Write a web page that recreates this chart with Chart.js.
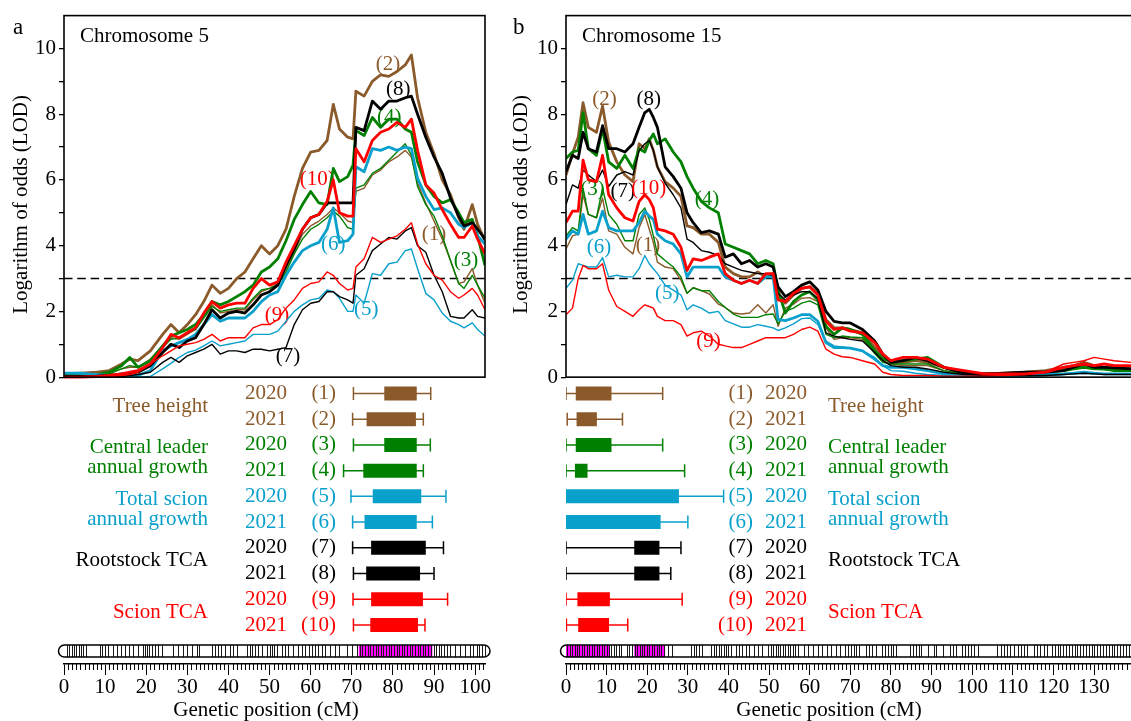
<!DOCTYPE html>
<html><head><meta charset="utf-8">
<script src="https://cdn.jsdelivr.net/npm/chart.js@4.4.1/dist/chart.umd.min.js"></script>
<style>
html,body{margin:0;padding:0;background:#fff;overflow:hidden;width:1131px;height:721px;position:relative;}
canvas{position:absolute;top:0;}
#ca{left:0;} #cb{left:500px;}
</style></head><body>
<canvas id="ca" width="500" height="721"></canvas>
<canvas id="cb" width="700" height="721"></canvas>
<script>
// ---------------- DATA ----------------
const TRAIT_NAMES = [['Tree height'], ['Central leader', 'annual growth'], ['Total scion', 'annual growth'], ['Rootstock TCA'], ['Scion TCA']];
const YEARS = ['2020', '2021'];
const QTL_IDS = ['(1)', '(2)', '(3)', '(4)', '(5)', '(6)', '(7)', '(8)', '(9)', '(10)'];
const CHROM_TITLES = ['Chromosome 5', 'Chromosome 15'];
const Y_TITLE = 'Logarithm of odds (LOD)';
const X_TITLE = 'Genetic position (cM)';
const LOD_THRESHOLD = 3;
const Y_TICKS = [0, 1, 2, 3, 4, 5, 6, 7, 8, 9, 10];
const X_TICKS_A = [0, 10, 20, 30, 40, 50, 60, 70, 80, 90, 100];
const X_TICKS_B = [0, 10, 20, 30, 40, 50, 60, 70, 80, 90, 100, 110, 120, 130];

// Chromosome 5 positions (cM) and LOD profiles (1)..(10)
const POS_A = [0,4,8,11,14, 16,18,21,24,26, 28,30,32,34,36, 38,40,42,44,46, 48,50,52,54,56, 58,60,62,64,65.5, 67,69,70.3,71,73, 75,77,79,81,83, 84.5,86,88,90,92, 94,96,97.3,99.3,100.6, 102.4];
const LOD_A1 = [0.1,0.12,0.1,0.12,0.25, 0.3,0.3,0.55,0.95,1.2, 1.15,1.3,1.45,1.85,2.2, 1.95,2.0,2.05,2.05,2.35, 2.6,2.7,2.85,3.3,3.8, 4.35,4.6,4.75,4.95,5.15, 5.0,4.75,4.7,5.65,5.75, 6.15,6.3,6.55,6.7,6.9, 6.7,5.9,5.3,4.75,4.2, 3.55,2.85,2.9,3.3,2.8, 2.25];
const LOD_A2 = [0.1,0.12,0.15,0.2,0.4, 0.55,0.5,0.8,1.3,1.6, 1.35,1.6,1.9,2.3,2.8, 2.55,2.7,3.0,3.2,3.6, 4.0,3.75,4.0,4.5,5.5, 6.35,6.85,6.9,7.2,8.3, 7.55,7.3,7.25,8.7,8.55, 9.0,9.2,9.15,9.3,9.5, 9.8,8.5,7.45,6.8,6.0, 5.55,4.85,4.5,5.25,4.65, 4.15];
const LOD_A3 = [0.05,0.05,0.06,0.1,0.25, 0.35,0.3,0.5,0.9,1.15, 1.2,1.35,1.45,1.8,2.15, 2.0,2.05,2.1,2.1,2.4, 2.65,2.7,2.8,3.2,3.75, 4.2,4.5,4.65,4.85,5.05, 4.9,4.55,4.5,5.75,5.85, 6.2,6.35,6.6,6.85,7.1, 6.75,5.8,5.25,4.9,4.3, 3.55,2.85,2.7,3.1,2.8, 2.4];
const LOD_A4 = [0.05,0.05,0.08,0.15,0.35, 0.6,0.3,0.5,0.95,1.25, 1.35,1.45,1.6,1.9,2.3, 2.2,2.3,2.45,2.6,2.8, 3.2,3.35,3.6,4.15,4.8, 5.25,5.65,5.3,5.25,6.35, 5.95,6.1,6.45,7.5,7.35, 7.9,7.6,7.85,7.85,7.55, 7.45,6.55,5.85,5.5,5.3, 5.4,5.0,4.7,4.8,4.3, 3.4];
const LOD_A5 = [0.12,0.1,0.05,0.02,0.0, 0.0,0.0,0.02,0.25,0.42, 0.6,0.75,0.82,0.95,1.1, 0.95,1.0,1.05,1.1,1.3, 1.3,1.3,1.4,1.7,2.0, 2.2,2.35,2.4,2.65,2.6, 2.4,2.0,2.0,2.5,2.25, 3.15,3.1,3.45,3.5,3.85, 3.9,3.3,2.55,2.35,1.95, 1.7,1.6,1.5,1.65,1.45, 1.25];
const LOD_A6 = [0.12,0.12,0.08,0.05,0.02, 0.02,0.05,0.2,0.8,0.95, 1.05,1.15,1.3,1.6,1.9, 1.7,1.8,1.8,1.8,2.0, 2.3,2.5,2.6,3.1,3.5, 3.85,4.0,4.1,4.5,5.15, 4.1,4.15,4.35,6.4,6.25, 6.95,6.9,7.0,6.9,7.0, 6.95,6.05,5.5,5.1,5.15, 5.0,4.65,4.55,4.7,4.3, 4.05];
const LOD_A7 = [0.0,0.0,0.0,0.0,0.02, 0.05,0.08,0.15,0.45,0.6, 0.45,0.65,0.75,0.85,1.0, 0.7,0.8,0.8,0.75,0.85, 0.85,0.8,0.85,0.9,1.6, 2.05,2.25,2.3,2.6,2.6, 2.45,2.35,2.25,3.1,3.3, 3.85,4.05,4.25,4.2,4.45, 4.55,4.0,3.8,3.1,2.6, 1.85,1.8,1.8,2.05,1.85, 1.8];
const LOD_A8 = [0.02,0.02,0.03,0.05,0.1, 0.12,0.15,0.35,0.75,1.0, 0.9,1.1,1.2,1.6,2.05, 1.8,1.95,2.0,1.95,2.2, 2.5,2.6,2.8,3.4,3.9, 4.5,4.85,4.95,5.3,5.3, 5.3,5.3,5.3,7.6,7.5, 8.4,8.15,8.4,8.4,8.5, 8.55,8.0,7.3,6.7,6.2, 5.45,4.9,4.6,4.7,4.5, 4.2];
const LOD_A9 = [0.0,0.0,0.0,0.02,0.05, 0.08,0.15,0.4,0.65,0.8, 0.95,1.0,1.05,1.15,1.3, 1.1,1.2,1.2,1.2,1.5, 1.6,1.6,1.75,2.1,2.35, 2.7,2.85,2.9,3.2,3.1, 2.85,2.65,2.7,3.35,3.6, 4.25,4.1,4.2,4.3,4.5, 4.7,4.05,3.45,3.1,2.95, 2.6,2.4,2.5,2.7,2.5, 2.05];
const LOD_A10 = [0.0,0.0,0.02,0.05,0.1, 0.15,0.2,0.4,0.9,1.3, 1.2,1.35,1.5,1.95,2.3, 2.1,2.2,2.25,2.25,2.7, 3.0,2.8,2.9,3.5,4.0, 4.5,4.85,4.95,5.35,6.0, 5.0,4.9,4.9,6.95,6.55, 7.2,7.45,7.55,7.75,7.6, 7.85,6.9,5.85,5.6,5.1, 4.65,4.25,4.25,4.6,4.2, 3.75];

// Chromosome 15 positions (cM) and LOD profiles (1)..(10)
const POS_B = [0,1.6,3,4.2,5.5, 7.5,9,10.5,12.5,14.5, 16.5,18,19.4,20.5,21.5, 22.5,24.4,26.4,28.3,29.8, 31.3,33.3,35.3,37.5,39.2, 41.2,43.2,45.2,47.2,49.2, 51,52.2,54,56,58, 60,62,64,66,68, 70,73,76,78,80, 83,86,89,93,98, 103,108,113,118,122.5, 125,127.5,130,132.5,135, 139,145];
const LOD_B1 = [3.9,4.3,4.35,5.55,4.95, 4.85,5.45,4.45,4.35,3.95, 3.75,4.55,4.95,4.5,4.1, 3.5,3.35,3.3,2.95,2.55, 2.72,2.63,2.53,2.22,2.12, 1.95,1.92,1.95,2.2,1.95, 2.2,1.55,2.1,2.22,2.4, 2.42,2.3,1.5,1.15,1.2, 1.2,1.15,0.75,0.5,0.4, 0.35,0.35,0.35,0.2,0.1, 0.08,0.08,0.1,0.15,0.25, 0.3,0.35,0.3,0.25,0.25, 0.25,0.25];
const LOD_B2 = [6.15,6.8,7.3,8.35,7.6, 7.45,8.25,7.15,6.55,6.15, 5.95,7.1,6.95,7.25,6.9, 6.4,5.95,5.75,5.5,4.6, 4.55,4.35,4.35,4.1,3.35, 3.15,3.05,3.05,3.2,3.05, 3.15,2.55,2.25,2.5,2.7, 2.75,2.55,1.75,1.5,1.5, 1.45,1.35,0.9,0.6,0.45, 0.45,0.5,0.45,0.3,0.15, 0.1,0.12,0.15,0.2,0.3, 0.35,0.45,0.35,0.3,0.3, 0.3,0.3];
const LOD_B3 = [4.3,4.55,4.45,5.75,4.95, 4.85,5.75,4.95,4.65,4.15, 4.15,4.95,5.15,4.8,4.3, 3.75,3.55,3.35,3.05,2.55, 2.72,2.63,2.63,2.3,2.12, 1.92,1.82,1.82,1.82,1.9, 1.92,1.62,2.0,2.1,2.25, 2.32,2.2,1.3,1.2,1.25, 1.22,1.2,0.72,0.45,0.4, 0.4,0.4,0.4,0.2,0.08, 0.05,0.05,0.08,0.12,0.2, 0.25,0.3,0.25,0.22,0.2, 0.2,0.2];
const LOD_B4 = [6.65,6.85,6.9,8.05,6.95, 6.75,7.55,6.55,6.35,6.75, 6.35,6.95,6.85,7.2,7.4, 7.1,7.25,6.85,6.55,6.1, 5.75,5.35,5.15,5.0,4.05, 3.95,3.85,3.75,3.45,3.55, 3.45,2.65,1.95,2.3,2.5, 2.6,2.35,1.55,1.3,1.5, 1.45,1.3,0.8,0.55,0.5, 0.5,0.55,0.6,0.3,0.1, 0.05,0.05,0.1,0.15,0.2, 0.25,0.3,0.25,0.25,0.2, 0.2,0.2];
const LOD_B5 = [2.7,2.95,3.45,3.4,3.35, 3.35,3.64,3.05,3.1,3.05, 3.05,3.3,3.7,3.45,3.3, 3.15,2.8,2.65,2.5,2.05, 2.2,2.1,1.95,2.0,1.72, 1.62,1.52,1.52,1.6,1.55, 1.5,1.42,1.5,1.62,1.78, 1.8,1.6,1.1,0.95,0.92, 0.88,0.8,0.6,0.35,0.2, 0.18,0.12,0.08,0.05,0.03, 0.03,0.03,0.03,0.05,0.08, 0.1,0.12,0.1,0.1,0.1, 0.1,0.1];
const LOD_B6 = [4.2,4.45,4.35,4.95,4.35, 4.45,5.05,4.55,4.45,4.45, 4.45,4.7,5.05,4.9,4.8, 4.35,4.15,4.05,3.75,3.05, 3.35,3.35,3.35,3.35,3.05, 2.95,2.85,2.95,2.85,3.05, 3.05,1.75,1.72,1.8,1.9, 1.9,1.7,1.05,0.9,0.9, 0.88,0.8,0.55,0.35,0.3, 0.3,0.25,0.2,0.1,0.05, 0.05,0.05,0.05,0.08,0.1, 0.12,0.15,0.12,0.1,0.1, 0.1,0.1];
const LOD_B7 = [5.25,5.85,5.75,6.3,6.15, 5.95,6.3,5.8,6.15,6.25, 6.15,6.9,7.1,7.2,6.9, 6.4,5.9,5.55,5.15,4.2, 4.1,3.85,3.8,3.7,3.45, 3.35,3.25,3.2,3.15,3.15, 3.1,2.55,2.35,2.5,2.6, 2.6,2.4,1.35,1.25,1.2, 1.15,1.1,0.75,0.5,0.35, 0.3,0.3,0.25,0.15,0.08, 0.05,0.05,0.05,0.05,0.08, 0.1,0.12,0.1,0.08,0.08, 0.08,0.08];
const LOD_B8 = [6.25,6.75,6.65,7.45,6.95, 6.85,7.65,6.95,6.95,6.85, 7.1,7.6,8.05,8.15,7.9, 7.6,6.4,6.1,5.75,5.0, 4.7,4.4,4.45,4.35,3.65, 3.75,3.45,3.55,3.35,3.45, 3.35,2.75,2.45,2.6,2.8, 2.9,2.65,2.0,1.7,1.65, 1.65,1.45,1.1,0.7,0.45, 0.5,0.6,0.5,0.3,0.12, 0.1,0.12,0.15,0.15,0.2, 0.3,0.4,0.3,0.3,0.28, 0.25,0.25];
const LOD_B9 = [1.9,2.1,3.0,3.4,3.3, 3.3,3.45,2.65,2.15,2.0, 1.85,2.05,2.2,2.15,2.1, 1.85,1.72,1.72,1.6,1.25, 1.35,1.4,1.25,1.0,0.95, 0.9,0.9,1.0,1.1,1.2, 1.2,1.2,1.2,1.3,1.45, 1.52,1.4,0.85,0.7,0.62, 0.6,0.5,0.4,0.15,0.08, 0.05,0.05,0.05,0.03,0.03, 0.03,0.05,0.08,0.15,0.4, 0.45,0.5,0.6,0.55,0.5, 0.45,0.45];
const LOD_B10 = [4.7,5.05,5.05,6.6,6.0, 5.95,6.75,5.55,5.15,4.85, 4.75,5.35,5.55,5.4,5.15, 4.5,4.45,4.35,3.95,3.25, 3.6,3.55,3.65,3.75,3.15, 2.95,2.85,2.95,2.85,3.15, 3.15,2.35,2.3,2.55,2.7, 2.75,2.5,1.7,1.45,1.5, 1.4,1.35,1.05,0.7,0.5, 0.6,0.6,0.55,0.3,0.2, 0.1,0.1,0.1,0.15,0.3, 0.35,0.4,0.35,0.4,0.35, 0.35,0.35];

// QTL intervals (cM): whisker low, box low, box high, whisker high, for (1)..(10)
const QTL_A_LO = [70.4, 70.2, 70.4, 68.0, 69.8, 70.2, 70.2, 70.4, 70.3, 70.4];
const QTL_A_BOX_LO = [77.9, 73.6, 77.9, 72.8, 75.1, 73.1, 74.7, 73.5, 74.7, 74.5];
const QTL_A_BOX_HI = [85.8, 85.6, 85.8, 85.8, 86.9, 85.8, 88.0, 86.6, 87.3, 86.1];
const QTL_A_HI = [89.2, 87.4, 89.1, 87.4, 92.9, 89.6, 92.3, 90.0, 93.3, 87.8];
const QTL_B_LO = [0, 0.3, 0, 0, 0, 0, 0, 0, 0, 0.1];
const QTL_B_BOX_LO = [2.4, 2.6, 2.4, 2.2, 0, 0, 16.8, 16.8, 2.8, 3.0];
const QTL_B_BOX_HI = [11.2, 7.6, 11.2, 5.3, 27.8, 23.3, 23.0, 23.0, 10.8, 10.6];
const QTL_B_HI = [23.8, 13.9, 23.8, 29.2, 38.8, 30.0, 28.3, 25.8, 28.6, 15.2];

// Marker positions on linkage groups (cM) and highlighted QTL regions
const MARKERS_A = [0.65,1.2,1.9,2.4,3.0,3.6,4.1,4.7,5.3, 8.8,9.3,10.0,10.8,12.0,12.8,13.8,14.8,15.8,16.9,18.1,19.1,19.7,20.2,20.7,21.3,22.1,22.9,23.8, 26.6,27.8,29.0,29.8,31.1,32.3,32.8, 35.9,36.7,37.5,38.3,39.2,40.4,41.2,42.0, 44.4,45.3,45.8,46.5,47.3,48.1,49.3,50.1,50.5,51.0,51.7,53.0,53.8,54.6,55.8,57.0,57.8,58.6,59.5,60.3,61.1,61.9,62.7,63.5,64.7,65.9,66.8, 68.8,70.0,71.2, 72.0,72.6,73.2,73.9,74.5,75.2,75.8,76.4,77.1,77.7,78.3,79.0,79.6,80.3,80.9,81.5,82.2,82.8,83.5,84.1,84.7,85.4,86.0,86.7,87.3,87.9,88.6,89.2, 90.0,90.6,91.2,91.8,92.5,93.1,94.0,95.1,96.3,97.6,98.8,99.6,100.4,101.0,101.6,102.3];
const MARKERS_B = [0.3,0.9,1.5,2.1,2.7,3.3,3.9,4.5,5.1,5.7,6.3,7.0,7.6,8.2,8.8,9.4,10.0,10.6, 11.2,11.8,12.4,13.0,13.6,14.9,15.5,16.2, 16.9,17.5,18.1,18.7,19.3,19.9,20.5,21.1,21.7,22.3,22.9,23.5,24.1, 25.0,26.0, 30.8,31.5,32.1,32.8,33.5, 35.8,36.4,37.0,37.6,38.2,38.8,39.4,40.0,40.6, 41.8,42.6,43.4,44.2,45.0, 46.3,47.2,48.2, 49.8,50.4,51.0,51.6,52.2,52.8,53.4,54.0,54.6,55.2,55.8,56.4,57.0, 58.5,59.6,60.7, 62.0,63.0,64.2,65.2, 66.5,67.5, 68.7,69.4,70.1,70.8,71.5,72.2, 73.8,74.6,75.4,76.2, 77.8,78.5,79.2,79.9,80.6,81.3, 84.7,85.4,86.1,86.8,87.5, 89.0,90.5,91.2,92.8,94.5,95.3,96.0, 97.6,98.3,99.0,99.7,100.4,101.5, 106.2,107.0,107.8,108.6,109.3, 110.4,111.2,112.0,112.8,113.6, 115.2,116.0,116.8,117.6,118.4, 119.6,120.3,121.0,121.7,122.4,123.1,123.8,124.5,125.2,125.9,126.6,127.3,128.0,128.7,129.4,130.1,130.8,131.5,132.2,132.9,133.6,134.3,135.0,135.7,136.4,137.1,137.8,138.5,139.2,139.9,140.6,141.3];
const HIGHLIGHT_A = [[71.7, 89.6]];
const HIGHLIGHT_B = [[0, 10.8], [16.8, 24.4]];

// ---------------- STYLE / LAYOUT ----------------
const FONT = "'Liberation Serif','Times New Roman',serif";
const TRAIT_COLORS = ['#8B5A2B', '#008000', '#0AA0CC', '#000000', '#FF0000'];
const MAGENTA = '#FF00FF';
// curve label anchors in data coordinates (cM, LOD)
const LABEL_POS_A = [[90.0,4.33],[78.8,9.52],[97.8,3.55],[79.1,7.91],[73.5,2.06],[65.5,4.03],[54.5,0.64],[81.3,8.76],[51.8,1.88],[61.6,6.0]];
const LABEL_POS_B = [[20.2,4.0],[9.5,8.46],[6.55,5.7],[34.7,5.42],[24.9,2.55],[8.1,3.94],[14.0,5.64],[20.4,8.45],[35.1,1.09],[20.4,5.73]];

Chart.defaults.font.family = FONT;
Chart.defaults.font.size = 21;
Chart.defaults.color = '#000';

function roundRectPath(ctx, x, y, w, h, r) {
  ctx.beginPath();
  ctx.moveTo(x + r, y);
  ctx.lineTo(x + w - r, y);
  ctx.arc(x + w - r, y + r, r, -Math.PI / 2, Math.PI / 2);
  ctx.lineTo(x + r, y + h);
  ctx.arc(x + r, y + r, r, Math.PI / 2, Math.PI * 1.5);
  ctx.closePath();
}

function makeDecor(P) {
  return {
    id: 'decor' + P.id,
    beforeDatasetsDraw(chart) {
      const {ctx, scales: {x, y}} = chart;
      ctx.save();
      ctx.font = '21px ' + FONT;
      ctx.textAlign = 'center';
      ctx.textBaseline = 'middle';
      P.labelPos.forEach((pt, i) => {
        ctx.fillStyle = TRAIT_COLORS[Math.floor(i / 2)];
        ctx.fillText(QTL_IDS[i], x.getPixelForValue(pt[0]), y.getPixelForValue(pt[1]));
      });
      ctx.restore();
    },
    afterDraw(chart) {
      const {ctx, chartArea: a, scales: {x, y, yq}} = chart;
      const X = v => x.getPixelForValue(v);
      ctx.save();
      // LOD frame
      const yt = y.getPixelForValue(y.max), yb = y.getPixelForValue(0);
      ctx.strokeStyle = '#000';
      ctx.lineWidth = 1.6;
      ctx.strokeRect(a.left, yt, X(P.xmax) - a.left, yb - yt);
      // minor ruler ticks
      ctx.lineWidth = 1;
      ctx.beginPath();
      for (let v = 0; v <= P.xmax; v++) {
        if (v % 10 === 0) continue;
        const px = Math.round(X(v)) + 0.5;
        ctx.moveTo(px, a.bottom);
        ctx.lineTo(px, a.bottom + 6);
      }
      ctx.stroke();
      // linkage group ideogram
      const it = a.bottom - 19, ih = 12, ir = 6;
      const il = X(0) - 5.5, iw = X(P.xmax) + 5 - il;
      roundRectPath(ctx, il, it, iw, ih, ir);
      ctx.fillStyle = '#fff';
      ctx.fill();
      ctx.save();
      roundRectPath(ctx, il, it, iw, ih, ir);
      ctx.clip();
      ctx.fillStyle = MAGENTA;
      P.highlight.forEach(([s, e]) => ctx.fillRect(X(s), it, X(e) - X(s), ih));
      ctx.strokeStyle = '#1a1a1a';
      ctx.lineWidth = 1;
      ctx.beginPath();
      P.markers.forEach(m => {
        const px = Math.round(X(m)) + 0.5;
        ctx.moveTo(px, it);
        ctx.lineTo(px, it + ih);
      });
      ctx.stroke();
      ctx.restore();
      roundRectPath(ctx, il, it, iw, ih, ir);
      ctx.strokeStyle = '#000';
      ctx.lineWidth = 1.5;
      ctx.stroke();
      // texts
      ctx.fillStyle = '#000';
      ctx.textBaseline = 'middle';
      ctx.textAlign = 'left';
      ctx.font = '23px ' + FONT;
      ctx.fillText(P.letter, P.letterX, 28);
      ctx.font = '21px ' + FONT;
      ctx.fillText(P.chrom, a.left + 16, 36);
      ctx.save();
      ctx.translate(P.yTitleX, (yt + yb) / 2 + 8);
      ctx.rotate(-Math.PI / 2);
      ctx.textAlign = 'center';
      ctx.fillText(Y_TITLE, 0, 0);
      ctx.restore();
      ctx.textAlign = 'center';
      ctx.fillText(X_TITLE, P.xTitleX, 710);
      // QTL row labels
      for (let i = 0; i < 10; i++) {
        const ry = yq.getPixelForValue(i + 1);
        ctx.fillStyle = TRAIT_COLORS[Math.floor(i / 2)];
        ctx.textAlign = 'right';
        ctx.fillText(QTL_IDS[i], P.idX, ry);
        ctx.textAlign = P.yearAlign;
        ctx.fillText(YEARS[i % 2], P.yearX, ry);
      }
      for (let t = 0; t < 5; t++) {
        const my = (yq.getPixelForValue(2 * t + 1) + yq.getPixelForValue(2 * t + 2)) / 2;
        const lines = TRAIT_NAMES[t];
        ctx.fillStyle = TRAIT_COLORS[t];
        ctx.textAlign = P.traitAlign;
        lines.forEach((ln, k) => {
          const off = lines.length === 1 ? 0 : (k === 0 ? -10 : 10);
          ctx.fillText(ln, P.traitX, my + off);
        });
      }
      ctx.restore();
    }
  };
}

function buildPanel(P) {
  const datasets = [];
  for (let i = 9; i >= 0; i--) {
    datasets.push({
      data: P.pos.map((xv, j) => ({x: xv, y: P.lod[i][j]})),
      borderColor: TRAIT_COLORS[Math.floor(i / 2)],
      borderWidth: i % 2 ? 2.8 : 1.4,
      borderJoinStyle: 'round',
      pointRadius: 0, tension: 0, yAxisID: 'y'
    });
  }
  datasets.push({
    data: [{x: 0, y: LOD_THRESHOLD}, {x: P.xmax, y: LOD_THRESHOLD}],
    borderColor: '#000', borderWidth: 1.5, borderDash: [8.5, 4.8],
    pointRadius: 0, yAxisID: 'y'
  });
  for (let i = 0; i < 10; i++) {
    const c = TRAIT_COLORS[Math.floor(i / 2)], row = i + 1;
    datasets.push({
      data: [{x: P.qtl.boxLo[i], y: row}, {x: P.qtl.boxHi[i], y: row}],
      borderColor: c, borderWidth: 14, borderCapStyle: 'butt',
      pointRadius: 0, yAxisID: 'yq'
    });
    datasets.push({
      data: [{x: P.qtl.lo[i], y: row}, {x: P.qtl.hi[i], y: row}],
      borderColor: c, borderWidth: 1.5,
      pointStyle: 'line', pointRotation: 90, pointRadius: 6.5, pointHoverRadius: 6.5,
      pointBorderWidth: 1.5, pointBorderColor: c, pointBackgroundColor: c,
      yAxisID: 'yq'
    });
  }
  const chartTop = 13, chartBottom = 664, lodZeroPx = 376, pxPerLod = 33;
  const rowFirstPx = 392.3, rowStep = 25.85;
  const yMin = -(chartBottom - lodZeroPx) / pxPerLod;
  const yMax = (lodZeroPx - chartTop) / pxPerLod;
  const qMin = 1 - (rowFirstPx - chartTop) / rowStep;
  const qMax = qMin + (chartBottom - chartTop) / rowStep;
  new Chart(document.getElementById(P.id), {
    type: 'line',
    data: {datasets},
    plugins: [makeDecor(P)],
    options: {
      responsive: false, animation: false, devicePixelRatio: 1, events: [],
      layout: {padding: {left: 0, top: chartTop, right: P.padRight, bottom: 0}},
      plugins: {legend: {display: false}, tooltip: {enabled: false}},
      scales: {
        x: {
          type: 'linear', position: 'bottom', min: 0, max: P.xmax,
          afterBuildTicks: s => { s.ticks = P.xticks.map(v => ({value: v})); },
          afterFit: s => { s.height = 721 - chartBottom; },
          ticks: {autoSkip: false, maxRotation: 0, padding: 0, color: '#000', font: {size: 21, family: FONT}},
          grid: {display: true, drawOnChartArea: false, drawTicks: true, tickLength: 11, color: '#000', lineWidth: 1},
          border: {display: true, color: '#000', width: 1.5}
        },
        y: {
          type: 'linear', position: 'left', min: yMin, max: yMax,
          afterBuildTicks: s => { s.ticks = Y_TICKS.map(v => ({value: v})); },
          afterFit: s => { s.width = P.axisLeft; },
          ticks: {autoSkip: false, padding: 3, color: '#000', font: {size: 21, family: FONT},
                  callback: v => (v % 2 === 0 ? String(v) : '')},
          grid: {display: true, drawOnChartArea: false, drawTicks: true, tickLength: 5, color: '#000', lineWidth: 1.3},
          border: {display: false}
        },
        yq: {type: 'linear', position: 'left', display: false, reverse: true, min: qMin, max: qMax}
      }
    }
  });
}

buildPanel({
  id: 'ca', xmax: 102.4, axisLeft: 64, padRight: 15,
  pos: POS_A, lod: [LOD_A1, LOD_A2, LOD_A3, LOD_A4, LOD_A5, LOD_A6, LOD_A7, LOD_A8, LOD_A9, LOD_A10],
  qtl: {lo: QTL_A_LO, boxLo: QTL_A_BOX_LO, boxHi: QTL_A_BOX_HI, hi: QTL_A_HI},
  markers: MARKERS_A, highlight: HIGHLIGHT_A, xticks: X_TICKS_A, labelPos: LABEL_POS_A,
  letter: 'a', letterX: 13, chrom: CHROM_TITLES[0], yTitleX: 21, xTitleX: 266,
  idX: 336, yearX: 266, yearAlign: 'center', traitX: 208, traitAlign: 'right'
});
buildPanel({
  id: 'cb', xmax: 142, axisLeft: 66, padRight: 700 - 66 - 142 * 4.062,
  pos: POS_B, lod: [LOD_B1, LOD_B2, LOD_B3, LOD_B4, LOD_B5, LOD_B6, LOD_B7, LOD_B8, LOD_B9, LOD_B10],
  qtl: {lo: QTL_B_LO, boxLo: QTL_B_BOX_LO, boxHi: QTL_B_BOX_HI, hi: QTL_B_HI},
  markers: MARKERS_B, highlight: HIGHLIGHT_B, xticks: X_TICKS_B, labelPos: LABEL_POS_B,
  letter: 'b', letterX: 13, chrom: CHROM_TITLES[1], yTitleX: 21, xTitleX: 329,
  idX: 253, yearX: 265, yearAlign: 'left', traitX: 328, traitAlign: 'left'
});
</script>
</body></html>
